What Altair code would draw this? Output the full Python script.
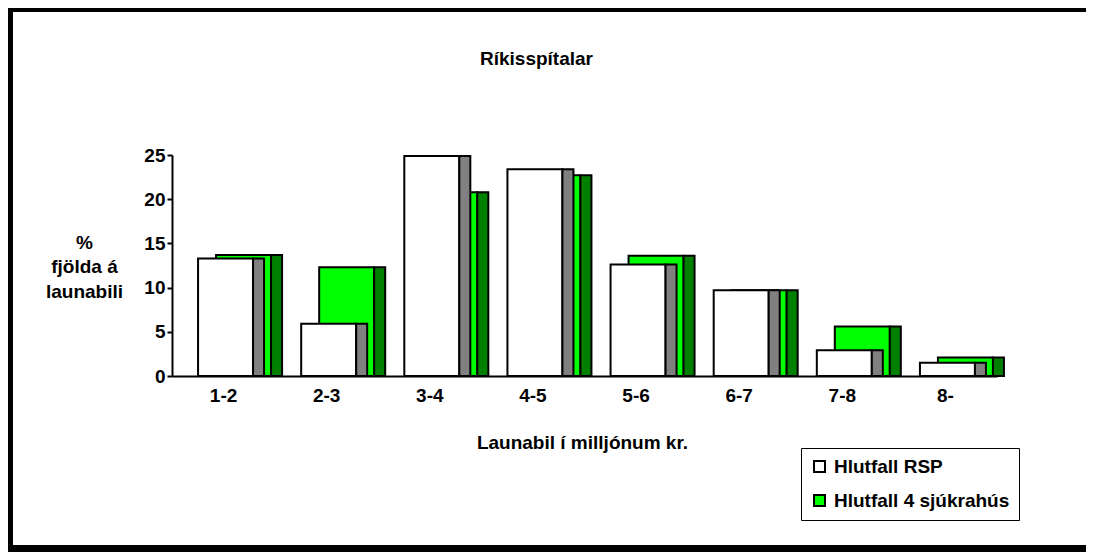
import altair as alt
import pandas as pd

categories = ["1-2", "2-3", "3-4", "4-5", "5-6", "6-7", "7-8", "8-"]
rsp_values = [13.3, 5.9, 24.9, 23.4, 12.6, 9.7, 2.9, 1.5]
hosp_values = [13.7, 12.3, 20.8, 22.7, 13.6, 9.7, 5.6, 2.1]
series_names = ["Hlutfall RSP", "Hlutfall 4 sjúkrahús"]
y_ticks = [0, 5, 10, 15, 20, 25]

FONT = "Liberation Sans"

rows = []
for c, v in zip(categories, rsp_values):
    rows.append({"cat": c, "series": series_names[0], "value": v})
for c, v in zip(categories, hosp_values):
    rows.append({"cat": c, "series": series_names[1], "value": v})
df = pd.DataFrame(rows)

x_enc = alt.X("cat:N", sort=categories,
              scale=alt.Scale(paddingInner=0, paddingOuter=0),
              axis=alt.Axis(title="Launabil í milljónum kr.", labelAngle=0, ticks=False,
                            labelPadding=10, labelFontSize=19, labelFontWeight="bold",
                            labelFont=FONT, labelColor="black",
                            domainColor="black", domainWidth=2,
                            titleFont=FONT, titleFontSize=19, titleFontWeight="bold",
                            titleColor="black", titleAnchor="start", titleAlign="center",
                            titleBaseline="alphabetic", titleX=410, titleY=72))
y_enc = alt.Y("value:Q", scale=alt.Scale(domain=[0, 25], nice=False),
              axis=alt.Axis(title=["%", "fjölda á", "launabili"], values=y_ticks,
                            grid=False, tickSize=5, tickWidth=2, tickColor="black",
                            domainColor="black", domainWidth=2,
                            labelFontSize=19, labelFontWeight="bold", labelFont=FONT,
                            labelColor="black", labelPadding=2,
                            titleAngle=0, titleFont=FONT, titleFontSize=19,
                            titleFontWeight="bold", titleColor="black",
                            titleAlign="center", titleBaseline="alphabetic",
                            titleX=-88, titleY=93, titleLineHeight=24.5))

color_enc = alt.Color("series:N",
                      scale=alt.Scale(domain=series_names, range=["white", "#00FF00"]),
                      legend=alt.Legend(title=None, orient="none", legendX=629, legendY=293,
                                        direction="vertical", symbolType="square",
                                        symbolSize=121, symbolStrokeColor="black",
                                        symbolStrokeWidth=2, labelFont=FONT,
                                        labelFontSize=19, labelFontWeight="bold",
                                        labelColor="black", labelOffset=5, labelLimit=0,
                                        rowPadding=14, padding=9,
                                        strokeColor="black", fillColor="white"))

base = alt.Chart(df)

green_front = base.transform_filter(alt.datum.series == series_names[1]).mark_bar(
    width=55, xOffset=20, stroke="black", strokeWidth=2
).encode(x=x_enc, y=y_enc, color=color_enc)
green_side = base.transform_filter(alt.datum.series == series_names[1]).mark_bar(
    width=11, xOffset=53, fill="#008000", stroke="black", strokeWidth=2
).encode(x=x_enc, y=y_enc)
rsp_front = base.transform_filter(alt.datum.series == series_names[0]).mark_bar(
    width=55, xOffset=2, stroke="black", strokeWidth=2
).encode(x=x_enc, y=y_enc, color=color_enc)
rsp_side = base.transform_filter(alt.datum.series == series_names[0]).mark_bar(
    width=11, xOffset=35, fill="#808080", stroke="black", strokeWidth=2
).encode(x=x_enc, y=y_enc)

one = alt.Data(values=[{"a": 1}])
title = alt.Chart(one).mark_text(text="Ríkisspítalar", font=FONT, fontSize=19,
                                 fontWeight="bold", color="black", align="center",
                                 baseline="alphabetic").encode(
    x=alt.value(364.5), y=alt.value(-90))
frame_top = alt.Chart(one).mark_rect(color="black").encode(
    x=alt.value(-164), x2=alt.value(914), y=alt.value(-147), y2=alt.value(-143))
frame_left = alt.Chart(one).mark_rect(color="black").encode(
    x=alt.value(-164), x2=alt.value(-159), y=alt.value(-147), y2=alt.value(397))
frame_bottom = alt.Chart(one).mark_rect(color="black").encode(
    x=alt.value(-164), x2=alt.value(914), y=alt.value(390), y2=alt.value(397))

chart = alt.layer(
    green_front, green_side, rsp_front, rsp_side, title, frame_top, frame_left, frame_bottom
).properties(
    width=825, height=221,
    autosize=alt.AutoSizeParams(type="none"),
    padding={"left": 164, "top": 147, "right": 89, "bottom": 176},
    background="white"
).configure_view(stroke=None)

chart.save("out.html", embed_options={"renderer": "svg", "actions": False})
